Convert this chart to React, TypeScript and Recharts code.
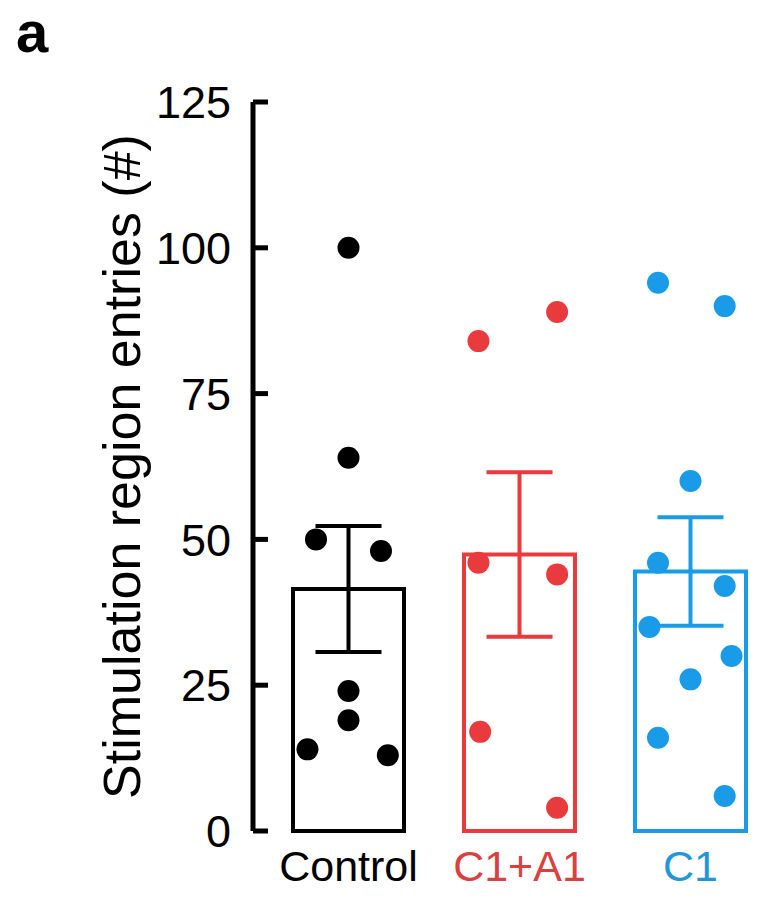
import { Bar, Cell, ComposedChart, ErrorBar, Scatter, XAxis, YAxis } from 'recharts'

const groups = ['Control', 'C1+A1', 'C1']
const groupColors = ['#000000', '#e93a3d', '#1a9be8']
const labelColors = ['#000000', '#d9413f', '#2197da']
const means = [41.5, 47.4, 44.5]
const sems = [10.8, 14.1, 9.3]
const yTicks = [0, 25, 50, 75, 100, 125]

// individual animals, value + horizontal jitter (in category units)
const controlValues = [100, 64, 50, 48, 24, 19, 14, 13]
const controlJitter = [0, 0, -0.19, 0.19, 0, 0, -0.24, 0.23]
const c1a1Values = [84, 89, 46, 44, 17, 4]
const c1a1Jitter = [-0.24, 0.22, -0.24, 0.22, -0.23, 0.22]
const c1Values = [94, 90, 60, 46, 42, 35, 30, 26, 16, 6]
const c1Jitter = [-0.19, 0.2, 0, -0.19, 0.2, -0.24, 0.24, 0, -0.19, 0.2]

const FONT = '"Liberation Sans", Arial, Helvetica, sans-serif'

const barRows = groups.map((name, i) => ({ name, mean: means[i] }))
const toPoints = (values: number[], jitter: number[], group: number) =>
  values.map((y, i) => ({ x: group + jitter[i], y }))
const pointSets = [
  toPoints(controlValues, controlJitter, 0),
  toPoints(c1a1Values, c1a1Jitter, 1),
  toPoints(c1Values, c1Jitter, 2),
]
const meanSets = groups.map((_, i) => [{ x: i, y: means[i], err: sems[i] }])

const Y_TICK_MARGIN = 22

const YTick = ({ x, y, payload }: any) => (
  <g>
    <line x1={x + Y_TICK_MARGIN} x2={x + Y_TICK_MARGIN + 15} y1={y} y2={y} stroke="#000" strokeWidth={5} />
    <text x={x} y={y} dy="0.36em" textAnchor="end" fontSize={45} fontFamily={FONT} fill="#000">
      {payload.value}
    </text>
  </g>
)

const XTick = ({ x, y, payload, index }: any) => (
  <text x={x} y={y} dy="0.71em" textAnchor="middle" fontSize={43} fontFamily={FONT} fill={labelColors[index]}>
    {payload.value}
  </text>
)

const noShape = () => <g />

export default function App() {
  return (
    <div style={{ position: 'absolute', left: 0, top: 0, width: 783, height: 900, background: '#fff' }}>
      <div
        style={{
          position: 'absolute',
          zIndex: 1,
          left: 12,
          top: 0,
          padding: '0 4px',
          fontFamily: FONT,
          fontWeight: 'bold',
          fontSize: 58,
          lineHeight: '64px',
          color: '#000',
        }}
      >
        a
      </div>
      <ComposedChart width={783} height={900} data={barRows} margin={{ top: 102, right: 7, bottom: 9, left: 0 }}>
        <XAxis
          dataKey="name"
          height={60}
          padding={{ left: 10, right: 0 }}
          axisLine={false}
          tickLine={false}
          tickSize={0}
          tickMargin={19}
          tick={<XTick />}
          interval={0}
        />
        <XAxis xAxisId="num" type="number" dataKey="x" domain={[-0.5, 2.5]} padding={{ left: 10, right: 0 }} hide />
        <YAxis
          width={253}
          domain={[0, 125]}
          ticks={yTicks}
          interval={0}
          axisLine={{ stroke: '#000', strokeWidth: 5 }}
          tickLine={false}
          tickSize={0}
          tickMargin={Y_TICK_MARGIN}
          tick={<YTick />}
          label={{
            value: 'Stimulation region entries (#)',
            angle: -90,
            position: 'center',
            dx: -5,
            dy: 0,
            style: { fontSize: 52, fontFamily: FONT, fill: '#000' },
          }}
        />
        <Bar dataKey="mean" barSize={111} fill="#fff" strokeWidth={4} isAnimationActive={false}>
          {barRows.map((row, i) => (
            <Cell key={row.name} stroke={groupColors[i]} />
          ))}
        </Bar>
        {meanSets.map((set, i) => (
          <Scatter
            key={`mean-${groups[i]}`}
            xAxisId="num"
            data={set}
            dataKey="y"
            shape={noShape}
            isAnimationActive={false}
          >
            <ErrorBar dataKey="err" direction="y" width={33} stroke={groupColors[i]} strokeWidth={4} />
          </Scatter>
        ))}
        {pointSets.map((set, i) => (
          <Scatter
            key={`pts-${groups[i]}`}
            xAxisId="num"
            data={set}
            dataKey="y"
            isAnimationActive={false}
            shape={(p: any) => <circle cx={p.cx} cy={p.cy} r={11} fill={groupColors[i]} />}
          />
        ))}
      </ComposedChart>
    </div>
  )
}
